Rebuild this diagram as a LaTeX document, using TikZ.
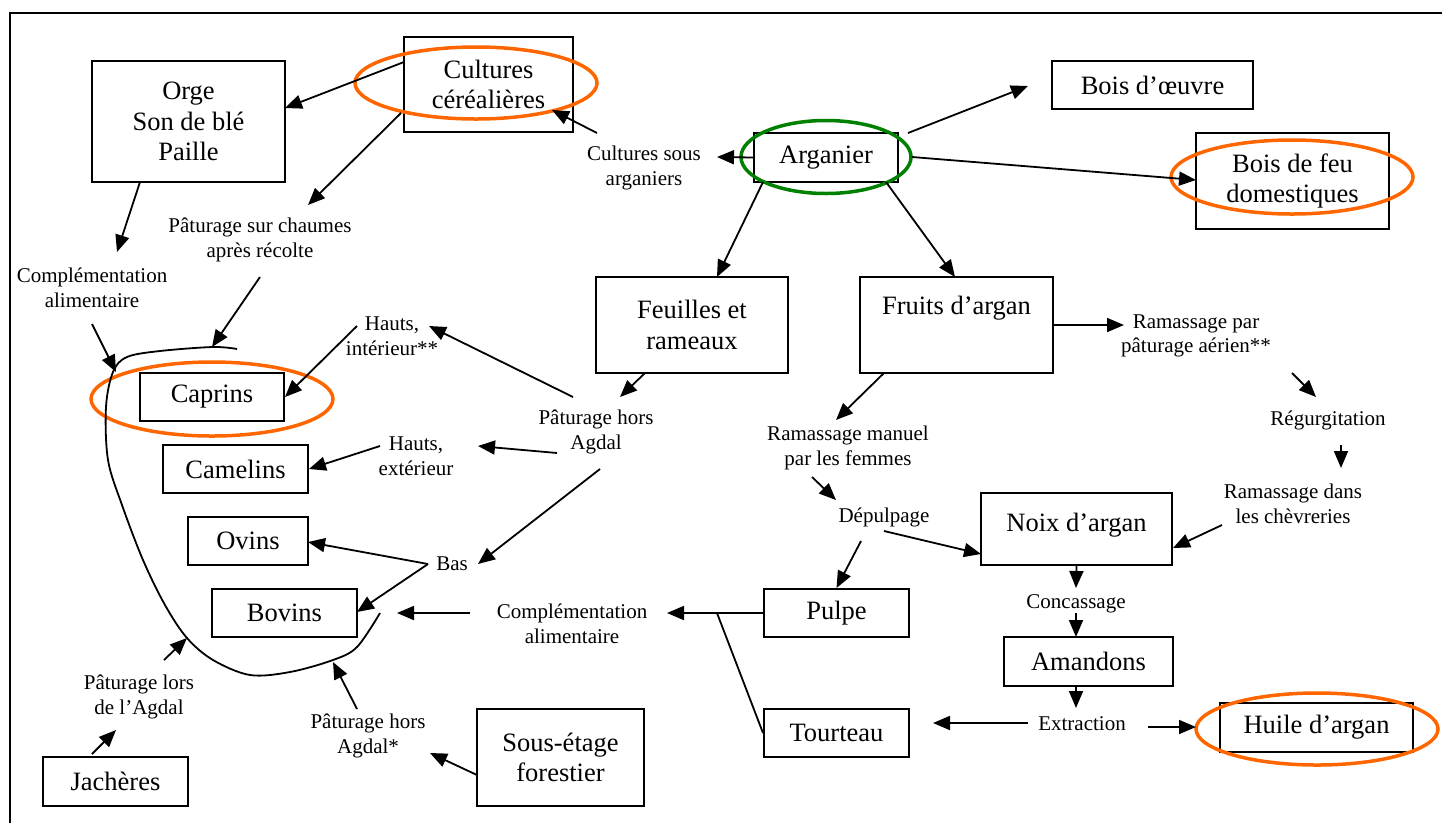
\documentclass[tikz,border=0pt]{standalone}
\usepackage{fontspec}
\setmainfont{Liberation Serif}
\usetikzlibrary{arrows.meta,shapes.geometric}
\definecolor{ringorange}{RGB}{255,102,0}
\definecolor{ringgreen}{RGB}{0,128,0}
\newcommand\bxfont{\fontsize{26.5}{30.5}\selectfont}
\newcommand\lbfont{\fontsize{21}{24.5}\selectfont}
\begin{document}
\begin{tikzpicture}[x=1pt,y=-1pt,
  box/.style={draw, line width=2pt, inner sep=0pt, align=center, font=\bxfont},
  lab/.style={inner sep=0pt, align=center, font=\lbfont},
  arr/.style={line width=1.8pt, -{Triangle[length=17pt,width=14pt]}},
  ln/.style={line width=1.8pt},
  ring/.style={ellipse, draw=ringorange, line width=3.5pt, inner sep=0pt},
  gring/.style={ellipse, draw=ringgreen, line width=3.5pt, inner sep=0pt}]
\useasboundingbox (0,0) rectangle (1442,823);
\draw[line width=2pt] (10,823) -- (10,13) -- (1442,13);

% boxes
\node[box, minimum width=193pt, minimum height=121pt] (orge) at (188.5,121.5) {Orge\\Son de blé\\Paille};
\node[box, minimum width=169pt, minimum height=95pt] (cult) at (488.5,84.5) {Cultures\\céréalières};
\node[box, minimum width=201pt, minimum height=48pt] (boeuv) at (1152.5,85) {Bois d’œuvre};
\node[box, minimum width=193pt, minimum height=96pt] (bfeu) at (1292.5,181) {Bois de feu\\domestiques};
\node[box, minimum width=144pt, minimum height=49pt] (arg) at (826,157.5) {Arganier};
\node[box, minimum width=192pt, minimum height=96pt] (feu) at (692,325) {Feuilles et\\rameaux};
\node[box, minimum width=193pt, minimum height=96pt] (fru) at (956.5,325) {Fruits d’argan\\\strut};
\node[box, minimum width=144pt, minimum height=48pt] (cap) at (212,397) {Caprins};
\node[box, minimum width=145pt, minimum height=48pt] (cam) at (235.5,469) {Camelins};
\node[box, minimum width=120pt, minimum height=48pt] (ovi) at (248,541) {Ovins};
\node[box, minimum width=145pt, minimum height=48pt] (bov) at (284.5,613) {Bovins};
\node[box, minimum width=145pt, minimum height=49pt] (jac) at (115.5,781.5) {Jachères};
\node[box, minimum width=167pt, minimum height=97pt] (sous) at (560.5,757.5) {Sous-étage\\forestier};
\node[box, minimum width=145pt, minimum height=48pt] (pul) at (836.5,613) {Pulpe};
\node[box, minimum width=145pt, minimum height=48pt] (tou) at (836.5,733) {Tourteau};
\node[box, minimum width=191pt, minimum height=72pt] (noix) at (1076.5,529) {\raisebox{13pt}{Noix d’argan}};
\node[box, minimum width=169pt, minimum height=49pt] (aman) at (1088.5,661.5) {Amandons};
\node[box, minimum width=193pt, minimum height=49pt] (huile) at (1316.5,727.5) {Huile d’argan};

% rings
\node[ring, minimum width=242pt, minimum height=72pt] (rcult) at (476,83) {};
\node[ring, minimum width=242pt, minimum height=74pt] (rbfeu) at (1292,177) {};
\node[gring, minimum width=170pt, minimum height=73pt] (rarg) at (826,157) {};
\node[ring, minimum width=242pt, minimum height=74pt] (rcap) at (212,399) {};
\node[ring, minimum width=242pt, minimum height=72pt] (rhuile) at (1317,729) {};

% labels
\node[lab] (lcsa) at (644,168) {Cultures sous\\arganiers};
\node[lab] (lpsc) at (260,240) {Pâturage sur chaumes\\après récolte};
\node[lab] (lca1) at (92,288) {Complémentation\\alimentaire};
\node[lab] (lhi) at (392,336) {Hauts,\\intérieur**};
\node[lab] (lhe) at (416,456) {Hauts,\\extérieur};
\node[lab] (lpha) at (596,432) {Pâturage hors\\Agdal};
\node[lab] (lbas) at (452,564) {Bas};
\node[lab] (lca2) at (572,624) {Complémentation\\alimentaire};
\node[lab] (lpla) at (139,697) {Pâturage lors\\de l’Agdal};
\node[lab] (lpha2) at (368,736) {Pâturage hors\\Agdal*};
\node[lab] (lrmf) at (848,448) {Ramassage manuel\\par les femmes};
\node[lab] (ldep) at (884,517) {Dépulpage};
\node[lab] (lrpa) at (1196,336) {Ramassage par\\pâturage aérien**};
\node[lab] (lreg) at (1328,420) {Régurgitation};
\node[lab] (lrdc) at (1293,504) {Ramassage dans\\les chèvreries};
\node[lab] (lcon) at (1076,604) {Concassage};
\node[lab] (lext) at (1082,724) {Extraction};

% freehand enclosure
\draw[ln] plot[smooth, tension=0.55] coordinates {(237,349) (213,347) (160,351) (127,357) (113,372) (106,407) (108,460) (122,505) (143,560) (165,605) (187,638) (213,660) (250,675) (290,672) (333,660) (357,647) (380,613)};
\coordinate (c1) at (187,638);
\coordinate (c2) at (333,662);
\coordinate (c3) at (116,372);
\coordinate (c4) at (212,347);
\coordinate (gap) at (397,613);
\coordinate (jn) at (717,613);

% connectors
\draw[arr] ([shift={(-84.5,-22.5)}]cult.center) -- ([shift={(96.5,-13.5)}]orge.center);
\draw[arr] ([shift={(-87.5,28.5)}]cult.center) -- ([shift={(48,-35)}]lpsc.center);
\draw[arr] ([shift={(-48.5,60.5)}]orge.center) -- ([shift={(25,-36)}]lca1.center);
\draw[arr] ([shift={(-47,-35)}]lcsa.center) -- ([shift={(63.5,25.5)}]cult.center);
\draw[arr] (arg.west) -- ([shift={(73,-11)}]lcsa.center);
\draw[arr] ([shift={(82,-24.5)}]arg.center) -- ([shift={(-124.5,1)}]boeuv.center);
\draw[arr] ([shift={(86,-0.5)}]arg.center) -- ([shift={(-96.5,-1)}]bfeu.center);
\draw[arr] ([shift={(-63,24.5)}]arg.center) -- ([shift={(25,-48)}]feu.center);
\draw[arr] ([shift={(60,24.5)}]arg.center) -- ([shift={(-1.5,-48)}]fru.center);
\draw[arr] ([shift={(-47,48)}]feu.center) -- ([shift={(24,-35)}]lpha.center);
\draw[arr] ([shift={(-23,-35)}]lpha.center) -- ([shift={(37,-10)}]lhi.center);
\draw[arr] ([shift={(-39,21)}]lpha.center) -- ([shift={(62,-10)}]lhe.center);
\draw[arr] ([shift={(4,37)}]lpha.center) -- ([shift={(26,0)}]lbas.center);
\draw[arr] ([shift={(-35,-10)}]lhi.center) -- (cap.east);
\draw[arr] ([shift={(-36,-10)}]lhe.center) -- (cam.east);
\draw[arr] ([shift={(-24,0)}]lbas.center) -- ([shift={(60,1)}]ovi.center);
\draw[arr] ([shift={(-24,0)}]lbas.center) -- ([shift={(72.5,-1)}]bov.center);
\draw[arr] ([shift={(-102,-11)}]lca2.center) -- (gap);
\draw[arr] (pul.west) -- ([shift={(95,-11)}]lca2.center);
\draw[ln] (tou.west) -- (jn);
\draw[arr] ([shift={(-23,24)}]ldep.center) -- (pul.north);
\draw[arr] ([shift={(0,14)}]ldep.center) -- ([shift={(-95.5,25)}]noix.center);
\draw[arr] ([shift={(-72.5,48)}]fru.center) -- ([shift={(-12,-28)}]lrmf.center);
\draw[arr] ([shift={(-36,29)}]lrmf.center) -- ([shift={(-48,-17)}]ldep.center);
\draw[arr] (fru.east) -- ([shift={(-72,-11)}]lrpa.center);
\draw[arr] ([shift={(96,37)}]lrpa.center) -- ([shift={(-12,-23)}]lreg.center);
\draw[arr] ([shift={(13,25)}]lreg.center) -- ([shift={(48,-36)}]lrdc.center);
\draw[arr] ([shift={(-71,21)}]lrdc.center) -- ([shift={(96.5,19)}]noix.center);
\draw[arr] (noix.south) -- ([shift={(0,-16)}]lcon.center);
\draw[arr] ([shift={(0,9)}]lcon.center) -- ([shift={(-12.5,-24.5)}]aman.center);
\draw[arr] ([shift={(-12.5,24.5)}]aman.center) -- ([shift={(-6,-16)}]lext.center);
\draw[arr] ([shift={(66,3)}]lext.center) -- ([shift={(-120.5,-0.5)}]huile.center);
\draw[arr] ([shift={(-54,-1)}]lext.center) -- ([shift={(96.5,-10)}]tou.center);
\draw[arr] ([shift={(-83.5,17.5)}]sous.center) -- ([shift={(62,17)}]lpha2.center);
\draw[arr] ([shift={(-23.5,-27.5)}]jac.center) -- ([shift={(-23,33)}]lpla.center);
\draw[arr] ([shift={(25,-37)}]lpla.center) -- (c1);
\draw[arr] ([shift={(-11,-27)}]lpha2.center) -- (c2);
\draw[arr] ([shift={(0,36)}]lca1.center) -- (c3);
\draw[arr] ([shift={(0,37)}]lpsc.center) -- (c4);
\end{tikzpicture}
\end{document}
